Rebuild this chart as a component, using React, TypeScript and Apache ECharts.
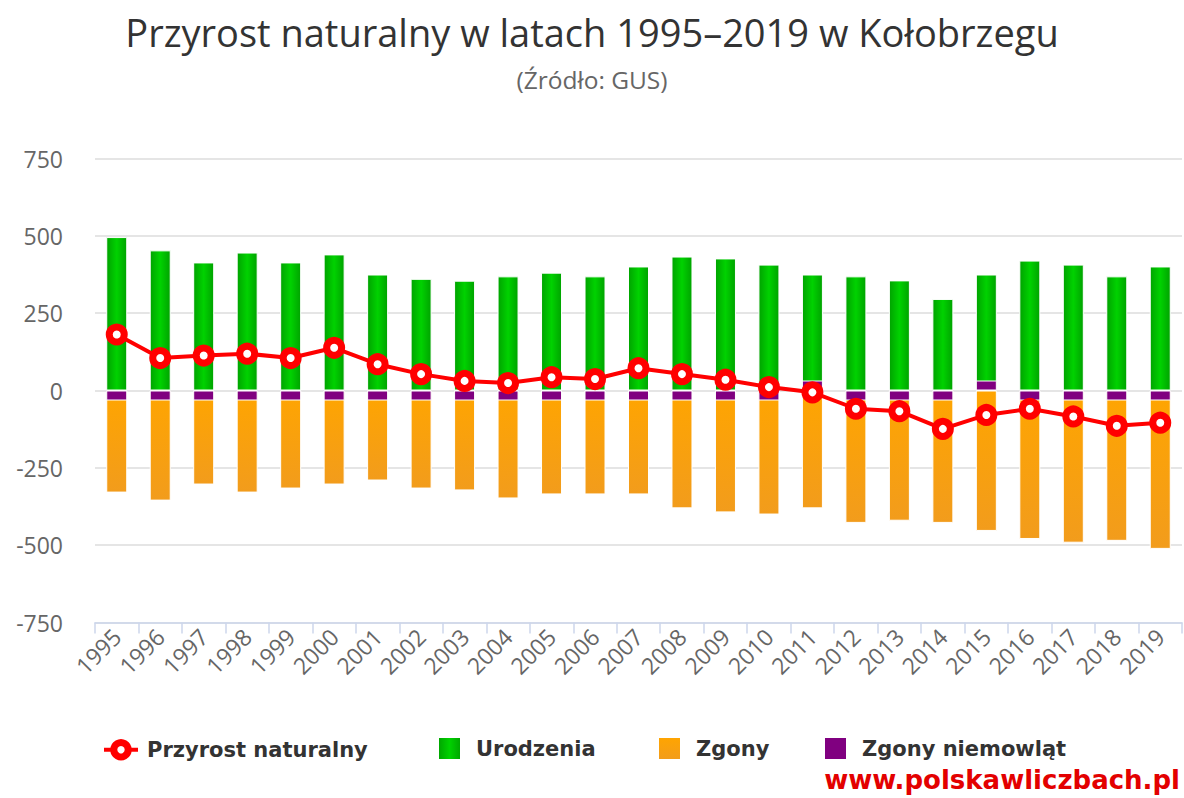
import React, { useEffect, useRef } from "react";
import * as echarts from "echarts";

const years = [
  "1995", "1996", "1997", "1998", "1999", "2000", "2001", "2002", "2003", "2004",
  "2005", "2006", "2007", "2008", "2009", "2010", "2011", "2012", "2013", "2014",
  "2015", "2016", "2017", "2018", "2019",
];
const births = [496, 453, 414, 446, 414, 440, 375, 361, 355, 369, 381, 369, 401, 433, 427, 407, 375, 369, 356, 296, 375, 420, 407, 369, 401];
const deaths = [330, 356, 304, 330, 317, 304, 291, 317, 323, 349, 336, 336, 336, 381, 394, 401, 381, 428, 421, 428, 454, 480, 492, 486, 512];
const infantDeaths = [3, 4, 2, 3, 2, 3, 1, 2, 3, 2, 1, 2, 3, 2, 1, 2, 0, 1, 2, 2, 0, 1, 2, 1, 2];
const naturalIncrease = [181, 105, 113, 119, 105, 138, 85, 53, 31, 24, 43, 37, 72, 53, 35, 11, -6, -59, -67, -124, -79, -59, -84, -114, -104];
const yTicks = { min: -750, max: 750, interval: 250 };

const FONT = "'Open Sans', sans-serif";
const BOLD = "'DejaVu Sans', sans-serif";

export default function App() {
  const ref = useRef<HTMLDivElement>(null);
  useEffect(() => {
    if (!ref.current) return;
    document.body.style.margin = "0";
    const chart = echarts.init(ref.current, null, { renderer: "svg" });
    const greenGrad = new echarts.graphic.LinearGradient(0, 0, 1, 0, [
      { offset: 0, color: "#00a300" },
      { offset: 0.5, color: "#00d200" },
      { offset: 1, color: "#00a300" },
    ]);
    const orangeGrad = new echarts.graphic.LinearGradient(0, 0, 0, 1, [
      { offset: 0, color: "#ffa500" },
      { offset: 1, color: "#f29c1c" },
    ]);
    const legendText = { fontFamily: BOLD, fontWeight: "bold", fontSize: 21, color: "#333" };
    const sq = "path://M0,0h10v10h-10z";
    chart.setOption({
      animation: false,
      backgroundColor: "#fff",
      title: [
        {
          text: "Przyrost naturalny w latach 1995–2019 w Kołobrzegu",
          left: "center",
          top: 13,
          padding: 0,
          textStyle: { fontFamily: FONT, fontWeight: "normal", fontSize: 38, color: "#333" },
        },
        {
          text: "(Źródło: GUS)",
          left: "center",
          top: 67,
          padding: 0,
          textStyle: { fontFamily: FONT, fontWeight: "normal", fontSize: 24.5, color: "#666" },
        },
      ],
      legend: [
        {
          data: [
            {
              name: "Przyrost naturalny",
              itemStyle: { color: "#fff", borderColor: "#ff0000", borderWidth: 7 },
              lineStyle: { color: "#ff0000", width: 4 },
            },
          ],
          left: 102,
          top: 739,
          itemWidth: 34,
          itemHeight: 18,
          textStyle: { ...legendText, padding: [0, 0, 0, 4] },
          selectedMode: false,
          padding: 0,
        },
        { data: [{ name: "Urodzenia", icon: sq }], left: 437, top: 736, itemWidth: 23, itemHeight: 23, textStyle: { ...legendText, padding: [0, 0, 0, 10] }, selectedMode: false, padding: 0 },
        { data: [{ name: "Zgony", icon: sq }], left: 657, top: 736, itemWidth: 23, itemHeight: 23, textStyle: { ...legendText, padding: [0, 0, 0, 10] }, selectedMode: false, padding: 0 },
        { data: [{ name: "Zgony niemowląt", icon: sq }], left: 823, top: 736, itemWidth: 23, itemHeight: 23, textStyle: { ...legendText, padding: [0, 0, 0, 10] }, selectedMode: false, padding: 0 },
      ],
      grid: { left: 95, right: 2, top: 158.5, bottom: 175.5, containLabel: false },
      xAxis: {
        type: "category",
        data: years,
        boundaryGap: true,
        axisLine: { onZero: false, lineStyle: { color: "#ccd6eb", width: 1.5 } },
        axisTick: { show: true, length: 11, lineStyle: { color: "#ccd6eb", width: 1.5 } },
        axisLabel: { rotate: 45, fontFamily: FONT, fontSize: 23, color: "#666", margin: 10, interval: 0 },
        splitLine: { show: false },
      },
      yAxis: {
        type: "value",
        min: yTicks.min,
        max: yTicks.max,
        interval: yTicks.interval,
        axisLine: { show: false },
        axisTick: { show: false },
        axisLabel: { fontFamily: FONT, fontSize: 23, color: "#666", margin: 32 },
        splitLine: { lineStyle: { color: "#dcdcdc", width: 1.5 } },
      },
      series: [
        {
          name: "Urodzenia",
          type: "bar",
          data: births,
          barWidth: 21,
          barGap: "-100%",
          itemStyle: { color: greenGrad, borderColor: "#fff", borderWidth: 1 },
          z: 2,
        },
        {
          name: "Zgony",
          type: "bar",
          data: deaths.map((d) => -d),
          barWidth: 21,
          barGap: "-100%",
          itemStyle: { color: orangeGrad, borderColor: "#fff", borderWidth: 1 },
          z: 2,
        },
        {
          name: "Zgony niemowląt",
          type: "bar",
          data: infantDeaths.map((d) => -d),
          barWidth: 21,
          barGap: "-100%",
          barMinHeight: 10,
          itemStyle: { color: "#800080", borderColor: "#fff", borderWidth: 1 },
          z: 3,
        },
        {
          name: "Przyrost naturalny",
          type: "line",
          data: naturalIncrease,
          symbol: "circle",
          symbolSize: 15,
          color: "#ff0000",
          lineStyle: { color: "#ff0000", width: 4 },
          itemStyle: { color: "#fff", borderColor: "#ff0000", borderWidth: 7 },
          z: 5,
        },
      ],
      graphic: [
        {
          type: "text",
          right: 4,
          top: 767,
          style: {
            text: "www.polskawliczbach.pl",
            fontFamily: BOLD,
            fontWeight: "bold",
            fontSize: 26,
            fill: "#e30000",
          },
        },
      ],
    });
    return () => chart.dispose();
  }, []);
  return <div ref={ref} style={{ width: 1184, height: 798 }} />;
}
